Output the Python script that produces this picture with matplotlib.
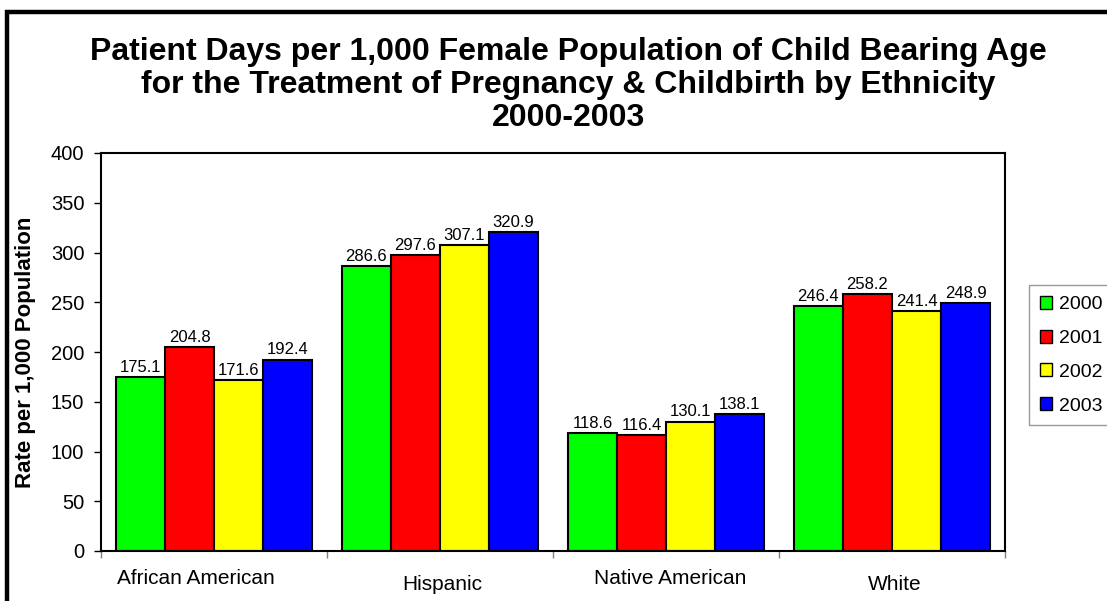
import numpy as np
import matplotlib
matplotlib.use("Agg")
import matplotlib.pyplot as plt
from matplotlib.patches import Rectangle
import matplotlib.transforms as mtransforms

plt.rcParams['font.family'] = ['Liberation Sans', 'DejaVu Sans']

# data
groups = ['African American', 'Hispanic', 'Native American', 'White']
years = ['2000', '2001', '2002', '2003']
rate_2000 = [175.1, 286.6, 118.6, 246.4]
rate_2001 = [204.8, 297.6, 116.4, 258.2]
rate_2002 = [171.6, 307.1, 130.1, 241.4]
rate_2003 = [192.4, 320.9, 138.1, 248.9]
colors = ['#00ff00', '#ff0000', '#ffff00', '#0000ff']

series = [rate_2000, rate_2001, rate_2002, rate_2003]

fig = plt.figure(figsize=(11.07, 6.01), dpi=100)
W, H = 1107, 601

# outer chart border
fig.patches.append(Rectangle((6.5 / W, -0.1), 1.2, 1.1 - 12 / H, transform=fig.transFigure,
                             fill=False, edgecolor='black', linewidth=3.2))

ax = fig.add_axes([101 / W, 1 - 551 / H, (1005 - 101) / W, (551 - 153) / H])

x = np.arange(len(groups))
bw = 0.217
for i, (vals, c) in enumerate(zip(series, colors)):
    pos = x + (i - 1.5) * bw
    bars = ax.bar(pos, vals, width=bw, color=c, edgecolor='black', linewidth=1.5,
                  label=years[i], zorder=2)
    for b, v in zip(bars, vals):
        ax.annotate(f'{v:.1f}', (b.get_x() + b.get_width() / 2, v), xytext=(0, 1.5),
                    textcoords='offset points', ha='center', va='bottom', fontsize=12)

ax.set_xlim(-0.5, len(groups) - 0.5)
ax.set_ylim(0, 400)
ax.set_yticks(np.arange(0, 401, 50))
ax.tick_params(axis='y', labelsize=14.5, length=5, width=1, direction='out', pad=7)

# tick marks between categories, labels staggered underneath
ax.set_xticks(np.arange(-0.5, len(groups)))
ax.set_xticklabels([])
ax.tick_params(axis='x', length=5, width=1, color='#808080')
trans = mtransforms.blended_transform_factory(ax.transData, ax.transAxes)
label_x = [-0.08, 1.01, 2.02, 3.01]
for k, g in enumerate(groups):
    yoff = -19.5 if k % 2 == 0 else -24
    ax.annotate(g, (label_x[k], 0), xycoords=trans, xytext=(0, yoff),
                textcoords='offset points', ha='center', va='center', fontsize=15)

for s in ax.spines.values():
    s.set_linewidth(1.5)

ax.set_ylabel('Rate per 1,000 Population', fontsize=16, fontweight='bold')
ax.yaxis.set_label_coords(-65 / 904, 0.5)

fig.text(568 / W, 1 - 85 / H,
         'Patient Days per 1,000 Female Population of Child Bearing Age\n'
         'for the Treatment of Pregnancy & Childbirth by Ethnicity\n2000-2003',
         ha='center', va='center', fontsize=23, fontweight='bold', linespacing=1.12)

leg = fig.legend(loc='upper left', bbox_to_anchor=(1029 / W, 1 - 285 / H), fontsize=14,
                 frameon=True, fancybox=False, edgecolor='#808080', handlelength=0.65,
                 handleheight=0.65, handletextpad=0.35, labelspacing=0.85, borderpad=0.55,
                 borderaxespad=0)
leg.get_frame().set_linewidth(1)
for h in leg.legend_handles:
    h.set_linewidth(1)

fig.savefig('out.png', dpi=100)
